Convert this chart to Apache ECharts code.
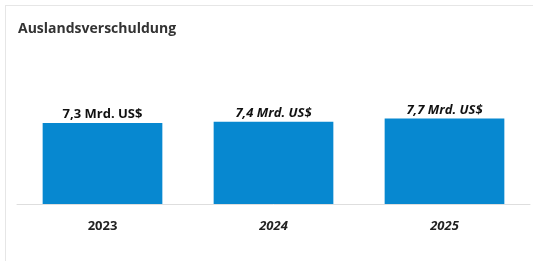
<!DOCTYPE html>
<html>
<head>
<meta charset="utf-8">
<script src="https://cdn.jsdelivr.net/npm/echarts@6/dist/echarts.min.js"></script>
<style>
  html, body { margin: 0; padding: 0; background: #fff; }
  #frame { position: absolute; left: 5px; top: 5px; width: 528px; height: 256px;
           border-left: 1px solid #e6e6e6; border-top: 1px solid #e6e6e6; }
  #main { position: absolute; left: 0; top: 0; width: 533px; height: 261px; }
</style>
</head>
<body>
<div id="frame"></div>
<div id="main"></div>
<script>
var years = ['2023', '2024', '2025'];
var debt = [7.3, 7.4, 7.7];   // Mrd. US$

var myChart = echarts.init(document.getElementById('main'));

var catData = [];
var barData = [];
for (var i = 0; i < years.length; i++) {
    var style = i > 0 ? 'italic' : 'normal';
    catData.push({ value: years[i], textStyle: { fontStyle: style } });
    barData.push({ value: debt[i], label: { fontStyle: style } });
}

var option = {
    animation: false,
    title: {
        text: 'Auslandsverschuldung',
        left: 13,
        top: 17,
        textStyle: { fontFamily: 'Open Sans', fontSize: 14, fontWeight: 'bold', color: '#333' }
    },
    grid: { left: 17, right: 3, top: 93, bottom: 57 },
    xAxis: {
        type: 'category',
        data: catData,
        axisLine: { lineStyle: { color: '#dedede' } },
        axisTick: { show: false },
        axisLabel: { margin: 16, fontFamily: 'Open Sans', fontSize: 13, fontWeight: 'bold', color: '#222' }
    },
    yAxis: {
        type: 'value',
        min: 0,
        max: 10,
        show: false,
        splitLine: { show: false }
    },
    series: [{
        type: 'bar',
        data: barData,
        barWidth: '70%',
        itemStyle: { color: '#0788d0' },
        label: {
            show: true,
            position: 'top',
            distance: 2,
            fontFamily: 'Open Sans',
            fontSize: 13,
            fontWeight: 'bold',
            color: '#111',
            formatter: function (p) {
                return p.value.toFixed(1).replace('.', ',') + ' Mrd. US$';
            }
        }
    }]
};

myChart.setOption(option);
</script>
</body>
</html>
